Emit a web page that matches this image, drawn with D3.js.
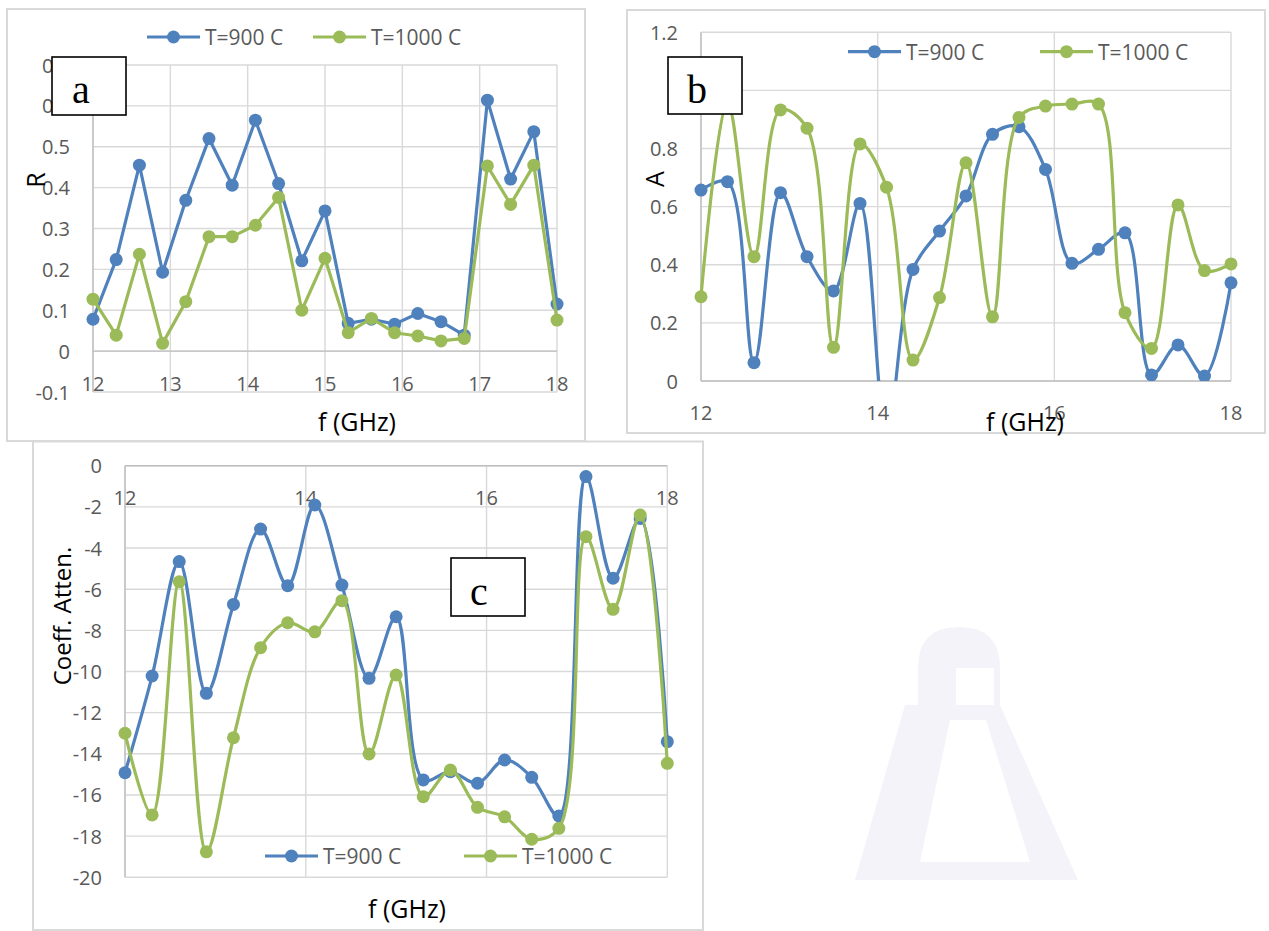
<!DOCTYPE html>
<html>
<head>
<meta charset="utf-8">
<script src="https://cdn.jsdelivr.net/npm/d3@7"></script>
<style>
  body { margin: 0; background: #fff; }
  svg text { font-family: "Open Sans", sans-serif; }
</style>
</head>
<body>
<svg id="chart" width="1269" height="931"></svg>
<script>
// frequency points (GHz), same for the three panels
const freqs = [12, 12.3, 12.6, 12.9, 13.2, 13.5, 13.8, 14.1, 14.4, 14.7, 15,
               15.3, 15.6, 15.9, 16.2, 16.5, 16.8, 17.1, 17.4, 17.7, 18];
const seriesNames = ["T=900 C", "T=1000 C"];

// (a) reflection R
const r900  = [0.078, 0.224, 0.455, 0.193, 0.369, 0.520, 0.406, 0.565, 0.410, 0.221, 0.343,
               0.068, 0.078, 0.066, 0.092, 0.072, 0.039, 0.614, 0.421, 0.537, 0.115];
const r1000 = [0.127, 0.039, 0.237, 0.019, 0.121, 0.280, 0.280, 0.308, 0.376, 0.100, 0.227,
               0.045, 0.080, 0.045, 0.037, 0.025, 0.031, 0.453, 0.359, 0.455, 0.076];

// (b) absorption A
const a900  = [0.657, 0.686, 0.063, 0.648, 0.428, 0.310, 0.611, -0.18, 0.384, 0.516, 0.637,
               0.849, 0.875, 0.728, 0.405, 0.453, 0.510, 0.021, 0.124, 0.017, 0.338];
const a1000 = [0.290, 0.960, 0.428, 0.933, 0.870, 0.116, 0.816, 0.667, 0.072, 0.287, 0.751,
               0.221, 0.907, 0.946, 0.953, 0.953, 0.235, 0.112, 0.606, 0.380, 0.403];

// (c) attenuation coefficient
const c900  = [-14.92, -10.22, -4.66, -11.06, -6.74, -3.08, -5.83, -1.91, -5.80, -10.33, -7.34,
               -15.27, -14.87, -15.43, -14.30, -15.14, -17.02, -0.53, -5.47, -2.56, -13.41];
const c1000 = [-13.00, -16.97, -5.64, -18.76, -13.22, -8.84, -7.63, -8.07, -6.56, -14.01, -10.17,
               -16.08, -14.79, -16.60, -17.06, -18.15, -17.62, -3.45, -6.98, -2.40, -14.46];

// tick values
const xTicksA = [12, 13, 14, 15, 16, 17, 18];
const xTicksBC = [12, 14, 16, 18];
const rTicks = [-0.1, 0, 0.1, 0.2, 0.3, 0.4, 0.5, 0.6, 0.7];
const aTicks = [0, 0.2, 0.4, 0.6, 0.8, 1, 1.2];
const cTicks = [0, -2, -4, -6, -8, -10, -12, -14, -16, -18, -20];

const colors = ["#4f81bd", "#9bbb59"];
const svg = d3.select("#chart");
const fmt = d => String(+d.toFixed(2));

// faint watermark behind the charts (broom icon)
const wm = svg.append("g").attr("fill", "#f4f3f9");
wm.append("path").attr("d", "M918,705 L918,668 Q918,627 959,627 Q1000,627 1000,668 L1000,705 Z");
wm.append("rect").attr("x", 956).attr("y", 668).attr("width", 38).attr("height", 37).attr("fill", "#fff");
wm.append("path").attr("d", "M905,705 L1000,705 L1078,880 L855,880 Z");
wm.append("path").attr("d", "M950,720 L986,720 L1030,862 L920,862 Z").attr("fill", "#fff");

function drawPanel(p) {
  const g = svg.append("g");

  // outer chart frame
  g.append("rect")
    .attr("x", p.frame[0]).attr("y", p.frame[1])
    .attr("width", p.frame[2] - p.frame[0]).attr("height", p.frame[3] - p.frame[1])
    .attr("fill", "#fff").attr("stroke", "#d9d9d9").attr("stroke-width", 2);

  const x = d3.scaleLinear().domain([12, 18]).range([p.plot[0], p.plot[2]]);
  const y = d3.scaleLinear().domain(p.yDomain).range([p.plot[3], p.plot[1]]);

  // gridlines
  g.selectAll(".hg").data(p.yTicks).enter().append("line")
    .attr("x1", p.plot[0]).attr("x2", p.plot[2])
    .attr("y1", d => y(d)).attr("y2", d => y(d))
    .attr("stroke", "#d9d9d9").attr("stroke-width", 1.4);
  g.selectAll(".vg").data(p.xTicks).enter().append("line")
    .attr("x1", d => x(d)).attr("x2", d => x(d))
    .attr("y1", p.plot[1]).attr("y2", p.plot[3])
    .attr("stroke", "#d9d9d9").attr("stroke-width", 1.4);

  // axis lines
  g.append("line")
    .attr("x1", p.plot[0]).attr("x2", p.plot[2]).attr("y1", y(0)).attr("y2", y(0))
    .attr("stroke", "#bfbfbf").attr("stroke-width", 1.4);
  g.append("line")
    .attr("x1", x(12)).attr("x2", x(12)).attr("y1", p.plot[1]).attr("y2", p.plot[3])
    .attr("stroke", "#bfbfbf").attr("stroke-width", 1.4);

  // tick labels
  g.selectAll(".yl").data(p.yTicks).enter().append("text")
    .attr("x", p.plot[0] - 23).attr("y", d => y(d))
    .attr("text-anchor", "end").attr("dominant-baseline", "central")
    .style("font-size", "20px").attr("fill", "#595959")
    .text(fmt);
  g.selectAll(".xl").data(p.xTicks).enter().append("text")
    .attr("x", d => x(d)).attr("y", y(0) + p.xLabOff)
    .attr("text-anchor", "middle").attr("dominant-baseline", "central")
    .style("font-size", "20px").attr("fill", "#595959")
    .text(fmt);

  // axis titles
  g.append("text")
    .attr("x", p.xTitle[0]).attr("y", p.xTitle[1])
    .attr("text-anchor", "middle").style("font-size", "25px").attr("fill", "#000")
    .text("f (GHz)");
  g.append("text")
    .attr("transform", `translate(${p.yTitle[0]},${p.yTitle[1]}) rotate(-90)`)
    .attr("text-anchor", "middle").style("font-size", p.yTitleSize).attr("fill", "#000")
    .text(p.yTitleText);

  // series
  const clipId = "clip" + p.name;
  g.append("clipPath").attr("id", clipId).append("rect")
    .attr("x", p.plot[0] - 8).attr("y", p.plot[1])
    .attr("width", p.plot[2] - p.plot[0] + 16).attr("height", p.plot[3] - p.plot[1]);
  const line = d3.line().x(d => x(d[0])).y(d => y(d[1])).curve(p.curve);
  const lay = g.append("g").attr("clip-path", `url(#${clipId})`);
  p.series.forEach((vals, i) => {
    const pts = freqs.map((f, k) => [f, vals[k]]);
    lay.append("path").datum(pts)
      .attr("d", line).attr("fill", "none")
      .attr("stroke", colors[i]).attr("stroke-width", 3.2)
      .attr("stroke-linejoin", "round");
    lay.selectAll(".m" + i).data(pts.filter(d => d[1] >= p.yDomain[0] && d[1] <= p.yDomain[1]))
      .enter().append("circle")
      .attr("cx", d => x(d[0])).attr("cy", d => y(d[1])).attr("r", 6.5)
      .attr("fill", colors[i]);
  });

  // legend
  seriesNames.forEach((s, i) => {
    const lx = p.legend[i], ly = p.legend[2];
    g.append("line").attr("x1", lx).attr("x2", lx + 53).attr("y1", ly).attr("y2", ly)
      .attr("stroke", colors[i]).attr("stroke-width", 3.2);
    g.append("circle").attr("cx", lx + 26.5).attr("cy", ly).attr("r", 6.5).attr("fill", colors[i]);
    g.append("text").attr("x", lx + 58).attr("y", ly)
      .attr("dominant-baseline", "central")
      .style("font-size", "21px").attr("fill", "#595959").text(s);
  });

  // panel letter box
  g.append("rect")
    .attr("x", p.box[0]).attr("y", p.box[1])
    .attr("width", p.box[2] - p.box[0]).attr("height", p.box[3] - p.box[1])
    .attr("fill", "#fff").attr("stroke", "#000").attr("stroke-width", 1.6);
  g.append("text")
    .attr("x", p.box[4]).attr("y", p.box[5])
    .attr("text-anchor", "middle")
    .style("font-family", "'Liberation Serif', serif").style("font-size", "40px")
    .attr("fill", "#000").text(p.name);
}

drawPanel({
  name: "a",
  frame: [7, 9, 585, 441],
  plot: [93, 65, 557, 392],
  yDomain: [-0.1, 0.7], yTicks: rTicks, xTicks: xTicksA, xLabOff: 32,
  series: [r900, r1000], curve: d3.curveLinear,
  xTitle: [357, 431], yTitle: [45, 180], yTitleText: "R", yTitleSize: "25px",
  legend: [147, 313, 37],
  box: [52, 57, 126, 115, 81, 103]
});

drawPanel({
  name: "b",
  frame: [627, 10, 1265, 433],
  plot: [701, 32.3, 1231, 381],
  yDomain: [0, 1.2], yTicks: aTicks, xTicks: xTicksBC, xLabOff: 31,
  series: [a900, a1000], curve: d3.curveCatmullRom.alpha(0.5),
  xTitle: [1025, 431], yTitle: [664, 179], yTitleText: "A", yTitleSize: "25px",
  legend: [848, 1040, 51.7],
  box: [668, 57, 742, 114, 697, 103]
});

drawPanel({
  name: "c",
  frame: [33, 441.5, 703, 930],
  plot: [125, 465.7, 667.3, 877.3],
  yDomain: [-20, 0], yTicks: cTicks, xTicks: xTicksBC, xLabOff: 32,
  series: [c900, c1000], curve: d3.curveCatmullRom.alpha(0.5),
  xTitle: [407, 918], yTitle: [71, 616], yTitleText: "Coeff. Atten.", yTitleSize: "24px",
  legend: [265, 464, 856],
  box: [451, 558, 525, 616, 479, 605]
});
</script>
</body>
</html>
